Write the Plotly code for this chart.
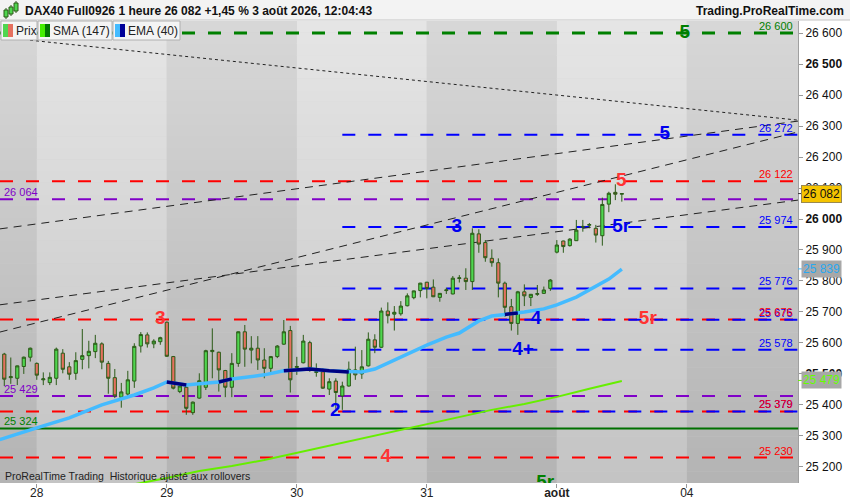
import plotly.graph_objects as go

# ---- candles (1 hour, index 0 = first bar on screen) ----
open_ = [25564, 25488, 25486, 25524, 25554, 25534, 25481, 25472, 25486, 25567,
         25523, 25502, 25547, 25559, 25572, 25597, 25534, 25488, 25425, 25435,
         25477, 25590, 25626, 25597, 25604, 25667, 25556, 25443, 25457, 25375,
         25422, 25457, 25572, 25570, 25511, 25457, 25534, 25636, 25577, 25583,
         25545, 25518, 25556, 25596, 25640, 25521, 25536, 25601, 25505, 25507,
         25451, 25477, 25429, 25461, 25513, 25500, 25526, 25610, 25586, 25703,
         25693, 25694, 25720, 25746, 25769, 25796, 25780, 25747, 25769, 25758,
         25808, 25809, 25798, 25952, 25924, 25873, 25859, 25793, 25717, 25663,
         25765, 25747, 25757, 25760, 25776, 25893, 25929, 25914, 25930, 25974,
         25980, 25970, 25946, 26048, 26086, 26080]
high = [25568, 25553, 25527, 25556, 25585, 25537, 25505, 25505, 25585, 25580,
        25538, 25570, 25645, 25607, 25626, 25602, 25542, 25516, 25471, 25510,
        25599, 25635, 25634, 25612, 25620, 25669, 25558, 25470, 25464, 25411,
        25502, 25578, 25647, 25572, 25513, 25567, 25637, 25658, 25622, 25622,
        25583, 25558, 25593, 25674, 25655, 25555, 25626, 25607, 25534, 25518,
        25486, 25486, 25475, 25540, 25588, 25577, 25634, 25628, 25714, 25731,
        25719, 25735, 25760, 25769, 25794, 25797, 25805, 25761, 25778, 25816,
        25819, 25841, 25970, 25967, 25932, 25902, 25873, 25798, 25742, 25768,
        25789, 25758, 25787, 25782, 25806, 25932, 25930, 25938, 25997, 25997,
        25987, 25981, 26069, 26088, 26112, 26082]
low = [25461, 25468, 25464, 25500, 25540, 25481, 25464, 25464, 25464, 25502,
       25481, 25481, 25515, 25518, 25551, 25515, 25436, 25422, 25391, 25427,
       25455, 25569, 25585, 25583, 25594, 25555, 25450, 25438, 25368, 25368,
       25420, 25448, 25486, 25443, 25425, 25425, 25523, 25523, 25534, 25513,
       25486, 25497, 25551, 25594, 25440, 25497, 25534, 25507, 25491, 25452,
       25432, 25385, 25384, 25459, 25481, 25484, 25524, 25567, 25584, 25663,
       25640, 25688, 25718, 25741, 25747, 25744, 25748, 25733, 25758, 25757,
       25795, 25771, 25771, 25891, 25862, 25846, 25747, 25685, 25640, 25626,
       25719, 25719, 25752, 25758, 25768, 25889, 25891, 25911, 25929, 25959,
       25970, 25924, 25914, 26022, 26061, 26056]
close = [25483, 25491, 25526, 25554, 25583, 25496, 25484, 25489, 25580, 25515,
         25499, 25543, 25559, 25573, 25599, 25538, 25486, 25429, 25442, 25481,
         25589, 25627, 25597, 25606, 25617, 25557, 25454, 25461, 25389, 25409,
         25478, 25575, 25576, 25513, 25457, 25534, 25636, 25580, 25583, 25545,
         25518, 25556, 25590, 25636, 25481, 25524, 25606, 25518, 25507, 25454,
         25475, 25440, 25461, 25515, 25497, 25523, 25612, 25586, 25703, 25688,
         25699, 25719, 25752, 25768, 25793, 25776, 25749, 25760, 25771, 25809,
         25810, 25798, 25954, 25919, 25875, 25859, 25793, 25715, 25663, 25765,
         25752, 25757, 25759, 25771, 25803, 25916, 25911, 25935, 25964, 25976,
         25982, 25948, 26047, 26083, 26080, 26082]
bars = list(range(len(close)))

# ---- moving averages, read at a few bars ----
sma_idx = [19, 25, 30, 35, 40, 45, 50, 55, 60, 65, 70, 75, 80, 85, 90, 95]
sma_val = [25140, 25164, 25187, 25203, 25222, 25245, 25269, 25292, 25314, 25339,
           25360, 25384, 25403, 25426, 25452, 25477]
ema_idx = [-0.7, 0, 5, 10, 15, 20, 23, 25, 28, 30, 33, 35, 40, 43, 45, 47, 50, 53,
           55, 57, 60, 63, 65, 68, 70, 73, 75, 77, 79, 80, 83, 85, 88, 90, 93, 95]
ema_val = [25288, 25293, 25326, 25358, 25400, 25432, 25455, 25474, 25464, 25468,
           25474, 25484, 25497, 25510, 25513, 25516, 25510, 25506, 25506, 25516,
           25545, 25571, 25593, 25619, 25632, 25671, 25687, 25692, 25697, 25700,
           25710, 25723, 25748, 25771, 25806, 25838]
ema_dark_ranges = [(25, 28), (33, 35), (43, 45), (47, 53), (77, 79)]

# ---- days on the time axis ----
day_ticks = [5, 25, 45, 65, 85, 105]
day_labels = ['28', '29', '30', '31', '<b>août</b>', '04']

# ---- horizontal levels ----
red_levels = [26122, 25676, 25379, 25230]
purple_levels = [26064, 25429]
blue_levels = [26272, 25974, 25776, 25675, 25578, 25379]
blue_start = 52
green_target = 26600
green_support = 25324

# ---- trend lines: (bar0, price0, bar1, price1) ----
tl_x0 = [-0.7, -0.7, -0.7, 3.95]
tl_y0 = [25968, 25723, 25635, 26577]
tl_x1 = [122.1, 122.1, 122.1, 122.1]
tl_y1 = [26316, 26061, 26281, 26319]
tl_dash = ['8px,6px', '8px,6px', '8px,6px', '3px,3px']

# ---- wave counts ----
wave_text = ['5', '5', '5', '3', '5r', '3', '4', '5r', '4+', '2', '4', '5r']
wave_x = [104.7, 101.6, 94.9, 69.6, 94.9, 24.0, 81.8, 99.0, 79.8, 50.9, 58.7, 83.2]
wave_y = [26600, 26272, 26122, 25974, 25974, 25676, 25675, 25676, 25578, 25379, 25230, 25148]
wave_color = ['#008000', '#0000ee', '#ff3333', '#0000ee', '#0000ee', '#ff3333',
              '#0000ee', '#ff3333', '#0000ee', '#0000ee', '#ff3333', '#008000']

last_price = 26082
ema_last = 25839
sma_last = 25479
y_ticks = list(range(25200, 26601, 100))

X_LO, X_HI = -0.66, 122.1
Y_LO, Y_HI = 25148, 26639
FONT = 'Liberation Sans, Arial, sans-serif'
RED, PURPLE, BLUE, GREEN = '#ff0000', '#8000c8', '#0000ff', '#008000'


def fmt(v):
    return f"{v:,}".replace(',', ' ')


def px_x(p):
    return p / 798


def px_y(p):
    return (483 - p) / 462


shapes = []

# background: day bands with a vertical gradient
edges = [X_LO] + day_ticks + [X_HI]
n_strips = 40
for b in range(len(edges) - 1):
    dark = b % 2 == 0
    for k in range(n_strips):
        t = (k + 0.5) / n_strips
        if dark:
            g = int(180 + t * (216 - 180))
        else:
            g = int(196 + t * (230 - 196))
        y0 = Y_LO + (Y_HI - Y_LO) * k / n_strips
        y1 = Y_LO + (Y_HI - Y_LO) * (k + 1) / n_strips
        shapes.append(dict(type='rect', xref='x', yref='y', x0=edges[b], x1=edges[b + 1],
                           y0=y0, y1=y1 + 1, fillcolor=f'rgb({g},{g},{g})',
                           line=dict(width=0), layer='below'))

# levels
def hline(y, color, x0=X_LO, width=2, dash='13px,13px'):
    shapes.append(dict(type='line', xref='x', yref='y', x0=x0, x1=X_HI, y0=y, y1=y,
                       line=dict(color=color, width=width, dash=dash), layer='below'))


hline(green_target, GREEN, width=3)
hline(green_support, '#007000', dash='solid')
for v in purple_levels:
    hline(v, PURPLE)
for v in red_levels:
    hline(v, RED)
for v in blue_levels:
    hline(v, BLUE, x0=blue_start)

for i in range(len(tl_x0)):
    shapes.append(dict(type='line', xref='x', yref='y', x0=tl_x0[i], y0=tl_y0[i],
                       x1=tl_x1[i], y1=tl_y1[i],
                       line=dict(color='#222222', width=1, dash=tl_dash[i]), layer='below'))

# header bar
shapes.append(dict(type='rect', xref='paper', yref='paper', x0=-0.01, x1=1.08,
                   y0=px_y(20), y1=px_y(-2), fillcolor='#f3f3f3',
                   line=dict(width=0), layer='above'))
shapes.append(dict(type='line', xref='paper', yref='paper', x0=-0.01, x1=1.08,
                   y0=px_y(20), y1=px_y(20), line=dict(color='#c4c4c4', width=1)))
# tiny candle icon in the header
for cx, top, bot in [(6, 10, 17), (11, 7, 14), (16, 3, 11)]:
    shapes.append(dict(type='line', xref='paper', yref='paper', x0=px_x(cx), x1=px_x(cx),
                       y0=px_y(bot + 2), y1=px_y(top - 2), line=dict(color='#2b5b17', width=1)))
    shapes.append(dict(type='rect', xref='paper', yref='paper', x0=px_x(cx - 2), x1=px_x(cx + 2),
                       y0=px_y(bot), y1=px_y(top), fillcolor='#4fd64f',
                       line=dict(color='#2b5b17', width=1)))

# legend boxes
legend_boxes = [(1, 37, '#4fd64f', '#e5705f', 'Prix'),
                (38, 112, '#44ee00', '#007700', 'SMA (147)'),
                (113, 180, '#44bbff', '#000099', 'EMA (40)')]
annotations = []
for x0, x1, c1, c2, label in legend_boxes:
    shapes.append(dict(type='rect', xref='paper', yref='paper', x0=px_x(x0), x1=px_x(x1),
                       y0=px_y(40), y1=px_y(21), fillcolor='#f4f4f4',
                       line=dict(color='#b0b0b0', width=1), layer='above'))
    shapes.append(dict(type='rect', xref='paper', yref='paper', x0=px_x(x0 + 2), x1=px_x(x0 + 7),
                       y0=px_y(37), y1=px_y(24), fillcolor=c1, line=dict(width=0), layer='above'))
    shapes.append(dict(type='rect', xref='paper', yref='paper', x0=px_x(x0 + 7), x1=px_x(x0 + 12),
                       y0=px_y(37), y1=px_y(24), fillcolor=c2, line=dict(width=0), layer='above'))
    annotations.append(dict(xref='paper', yref='paper', x=px_x(x0 + 13), y=px_y(30.5),
                            xanchor='left', yanchor='middle', showarrow=False, text=label,
                            font=dict(family=FONT, size=12, color='#222')))

# right axis markers
for price, col in [(ema_last, '#44bbff'), (sma_last, '#66ee00'), (last_price, '#333333')]:
    shapes.append(dict(type='line', xref='paper', yref='y', x0=1.0, x1=px_x(803),
                       y0=price, y1=price, line=dict(color=col, width=1)))

fig = go.Figure()

fig.add_trace(go.Candlestick(
    x=bars, open=open_, high=high, low=low, close=close,
    increasing=dict(fillcolor='#4fd64f', line=dict(color='#2b5b17', width=1)),
    decreasing=dict(fillcolor='#e5705f', line=dict(color='#2b5b17', width=1)),
    hoverinfo='skip'
))

fig.add_trace(go.Scatter(x=sma_idx, y=sma_val, mode='lines',
                         line=dict(color='#66ee00', width=2), hoverinfo='skip'))
fig.add_trace(go.Scatter(x=ema_idx, y=ema_val, mode='lines',
                         line=dict(color='#44bbff', width=3.5), hoverinfo='skip'))
ema_dark = [v if any(a <= x <= b for a, b in ema_dark_ranges) else None
            for x, v in zip(ema_idx, ema_val)]
fig.add_trace(go.Scatter(x=ema_idx, y=ema_dark, mode='lines', connectgaps=False,
                         line=dict(color='#000080', width=3.5), hoverinfo='skip'))

fig.add_trace(go.Scatter(
    x=wave_x, y=wave_y, mode='text', text=[f'<b>{t}</b>' for t in wave_text],
    textposition='middle center', cliponaxis=True,
    textfont=dict(family=FONT, size=19, color=wave_color), hoverinfo='skip'
))

# level values written next to the lines
right_labels = [(green_target, GREEN)] + [(v, BLUE) for v in blue_levels] + \
               [(v, RED) for v in red_levels]
for v, col in right_labels:
    annotations.append(dict(xref='paper', yref='y', x=px_x(795), y=v, xanchor='right',
                            yanchor='bottom', yshift=-1, showarrow=False, text=fmt(v),
                            font=dict(family=FONT, size=11, color=col)))
left_labels = [(v, PURPLE) for v in purple_levels] + [(green_support, GREEN)]
for v, col in left_labels:
    annotations.append(dict(xref='paper', yref='y', x=px_x(2), y=v, xanchor='left',
                            yanchor='bottom', yshift=-1, showarrow=False, text=fmt(v),
                            font=dict(family=FONT, size=11, color=col)))

# price boxes on the axis
annotations.append(dict(xref='paper', yref='y', x=px_x(801), y=last_price, xanchor='left',
                        yanchor='middle', showarrow=False, text=fmt(last_price),
                        bgcolor='#f5c400', bordercolor='#9a8a50', borderwidth=1, borderpad=1,
                        font=dict(family=FONT, size=12, color='#111')))
annotations.append(dict(xref='paper', yref='y', x=px_x(801), y=ema_last, xanchor='left',
                        yanchor='middle', showarrow=False, text=fmt(ema_last),
                        bgcolor='#a8a8a8', borderpad=1,
                        font=dict(family=FONT, size=12, color='#2aa8f0')))
annotations.append(dict(xref='paper', yref='y', x=px_x(801), y=sma_last, xanchor='left',
                        yanchor='middle', showarrow=False, text=fmt(sma_last),
                        bgcolor='#a8a8a8', borderpad=1,
                        font=dict(family=FONT, size=12, color='#66ff00')))

# header and footer texts
annotations.append(dict(xref='paper', yref='paper', x=px_x(23), y=px_y(10.5), xanchor='left',
                        yanchor='middle', showarrow=False,
                        text='<b>DAX40 Full0926 1 heure 26 082 +1,45 % 3 août 2026, 12:04:43</b>',
                        font=dict(family=FONT, size=12, color='#111')))
annotations.append(dict(xref='paper', yref='paper', x=px_x(846), y=px_y(10.5), xanchor='right',
                        yanchor='middle', showarrow=False, text='<b>Trading.ProRealTime.com</b>',
                        font=dict(family=FONT, size=12, color='#111')))
annotations.append(dict(xref='paper', yref='paper', x=px_x(3), y=px_y(476), xanchor='left',
                        yanchor='middle', showarrow=False,
                        text='ProRealTime Trading \u00a0Historique ajusté aux rollovers',
                        font=dict(family=FONT, size=10.5, color='#222')))

fig.update_layout(
    width=850,
    height=500,
    margin=dict(l=0, r=52, t=21, b=17),
    paper_bgcolor='white',
    plot_bgcolor='#cccccc',
    showlegend=False,
    shapes=shapes,
    annotations=annotations,
    xaxis=dict(
        range=[X_LO, X_HI],
        tickvals=day_ticks,
        ticktext=day_labels,
        ticks='outside',
        ticklen=4,
        tickcolor='#999999',
        ticklabelstandoff=-5,
        showgrid=False,
        zeroline=False,
        showline=False,
        automargin=False,
        rangeslider=dict(visible=False),
        tickfont=dict(family=FONT, size=12, color='#222')
    ),
    yaxis=dict(
        side='right',
        range=[Y_LO, Y_HI],
        tickvals=y_ticks,
        ticktext=[f'<b>{fmt(v)}</b>' if v % 500 == 0 else fmt(v) for v in y_ticks],
        ticks='outside',
        ticklen=4,
        tickcolor='#999999',
        showline=True,
        linecolor='#a0a0a0',
        showgrid=False,
        zeroline=False,
        automargin=False,
        tickfont=dict(family=FONT, size=12, color='#111')
    )
)

# the page's default body margin would shift the 850x500 figure out of the window
fig.write_html("out.html", config={'displayModeBar': False},
               post_script="document.body.style.margin='0';document.body.style.overflow='hidden';")
